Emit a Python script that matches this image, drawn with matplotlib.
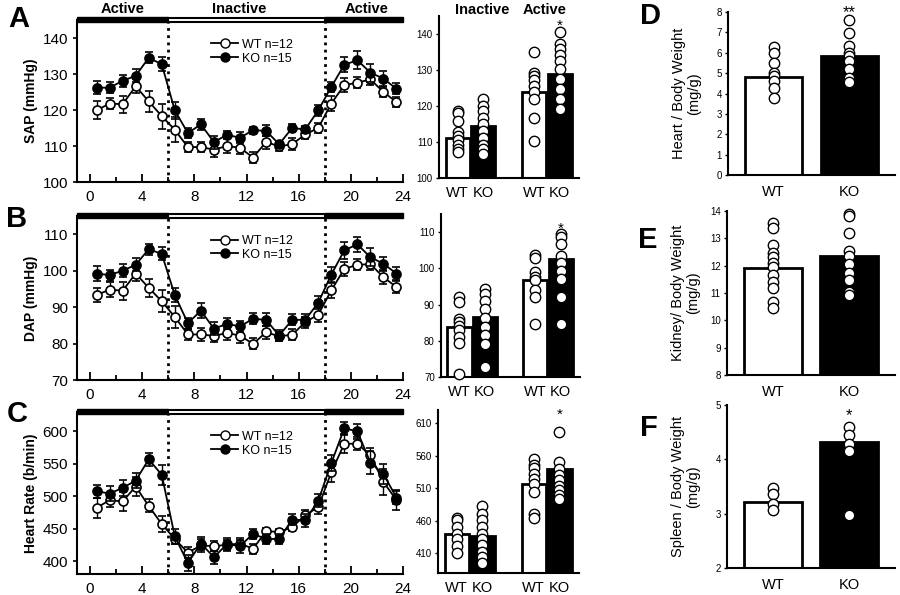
import matplotlib
matplotlib.use('Agg')
import matplotlib.pyplot as plt
from matplotlib.patches import Rectangle
from matplotlib.lines import Line2D
import matplotlib.transforms as mtransforms
import numpy as np

plt.rcParams['font.family'] = ['Liberation Sans', 'DejaVu Sans']

# ---------------- data ----------------
hours = np.arange(24) + 0.5

sap_wt = [119.9, 121.8, 121.6, 126.6, 122.4, 118.3, 114.5, 109.7, 109.7, 109.0, 110.0, 109.5,
          106.8, 111.1, 109.9, 110.5, 113.2, 115.0, 121.8, 126.9, 127.6, 128.5, 125.0, 122.2]
sap_wt_err = [2.5, 1.5, 2.3, 2.0, 3.0, 3.5, 3.5, 1.5, 1.5, 2.0, 2.0, 1.7,
              1.5, 1.8, 1.3, 1.7, 1.2, 1.5, 2.0, 2.0, 1.5, 1.5, 1.5, 1.5]
sap_ko = [126.2, 126.2, 128.1, 129.5, 134.5, 132.7, 119.9, 113.6, 116.0, 111.1, 113.1, 112.3,
          114.4, 114.2, 110.5, 115.0, 114.6, 119.9, 126.4, 132.6, 133.8, 130.4, 128.7, 125.9]
sap_ko_err = [1.8, 1.5, 1.7, 1.8, 1.5, 2.0, 2.3, 1.5, 1.5, 1.8, 1.0, 1.5,
              1.0, 1.5, 1.0, 1.2, 1.0, 1.5, 1.5, 2.0, 2.5, 2.5, 2.0, 1.5]

dap_wt = [93.3, 94.8, 94.5, 99.2, 95.3, 91.6, 87.3, 82.5, 82.5, 82.1, 82.9, 82.2,
          79.9, 83.1, 82.0, 82.4, 85.9, 87.9, 94.6, 100.5, 101.6, 101.8, 98.2, 95.5]
dap_wt_err = [2.0, 2.0, 2.5, 2.0, 2.5, 3.0, 3.0, 1.5, 1.8, 1.8, 1.8, 2.0,
              1.5, 1.8, 1.3, 1.5, 1.5, 2.0, 2.0, 2.0, 1.5, 1.5, 1.8, 1.7]
dap_ko = [99.2, 98.8, 100.0, 101.6, 105.9, 104.6, 93.3, 85.6, 89.0, 84.1, 85.4, 84.7,
          86.8, 86.5, 82.2, 86.5, 86.5, 91.2, 98.9, 105.6, 107.2, 103.7, 101.9, 99.2]
dap_ko_err = [2.0, 1.5, 1.7, 1.8, 1.5, 1.8, 2.0, 1.5, 2.0, 1.8, 1.5, 1.5,
              1.5, 1.8, 1.5, 1.5, 1.5, 1.8, 2.0, 2.3, 2.0, 2.5, 1.8, 1.8]

hr_wt = [482, 494, 492, 515, 485, 457, 434, 413, 424, 423, 425, 427,
         419, 446, 445, 452, 471, 483, 537, 581, 581, 563, 522, 494]
hr_wt_err = [15, 10, 15, 15, 10, 12, 8, 8, 10, 8, 8, 8,
             8, 5, 5, 5, 8, 10, 15, 15, 10, 12, 20, 15]
hr_ko = [508, 504, 513, 524, 557, 533, 438, 397, 427, 406, 426, 423,
         442, 434, 434, 464, 463, 493, 551, 605, 600, 552, 534, 498]
hr_ko_err = [10, 12, 12, 12, 10, 15, 12, 12, 10, 10, 10, 10,
             8, 8, 8, 8, 10, 10, 12, 10, 12, 18, 15, 10]

group_labels = ['WT', 'KO', 'WT', 'KO']
phase_labels = ['Inactive', 'Active']
day_labels = ['Active', 'Inactive', 'Active']

sap_bar_means = [111.0, 114.5, 124.0, 129.0]
sap_bar_dots = [
    [118.7, 118.0, 115.8, 112.7, 111.8, 110.6, 109.1, 108.1, 107.1],
    [122.0, 120.1, 118.7, 116.8, 114.9, 113.0, 111.1, 109.2, 108.1, 106.7],
    [134.9, 129.3, 128.3, 127.2, 125.6, 123.9, 122.0, 116.8, 110.2],
    [140.6, 137.1, 135.7, 134.2, 132.4, 130.3, 127.6, 124.8, 122.0, 119.3],
]
dap_bar_means = [83.7, 86.7, 96.9, 102.5]
dap_bar_dots = [
    [92.0, 90.8, 86.0, 85.1, 84.2, 83.0, 81.1, 79.3, 70.7],
    [94.2, 93.0, 91.1, 88.8, 86.2, 83.9, 81.7, 79.1, 72.8],
    [103.8, 102.9, 99.0, 97.6, 96.7, 94.1, 92.2, 84.6],
    [109.6, 108.7, 106.7, 103.5, 101.4, 99.3, 97.0, 92.2, 84.5],
]
hr_bar_means = [439.5, 437.5, 517.0, 540.0]
hr_bar_dots = [
    [465, 461, 450.7, 440.5, 431.4, 421.2, 411],
    [482, 471, 461, 450.7, 440.5, 431.4, 422.7, 412.5, 404, 394.7],
    [555, 546, 541, 532, 524.5, 515.9, 504, 471, 465],
    [597, 551, 540, 531, 523, 514, 507, 499, 493],
]

organ_groups = ['WT', 'KO']
heart_means = [4.8, 5.82]
heart_dots = [[6.28, 5.98, 5.5, 5.03, 4.87, 4.59, 4.26, 3.77],
              [7.59, 6.97, 6.31, 5.98, 5.82, 5.61, 5.2, 4.75, 4.54]]
kidney_means = [11.93, 12.35]
kidney_dots = [[13.55, 13.37, 12.76, 12.45, 12.33, 12.09, 11.96, 11.66, 11.41, 11.17, 10.68, 10.46],
               [13.9, 13.8, 13.2, 12.54, 12.37, 12.05, 11.72, 11.48, 11.05, 10.93]]
spleen_means = [3.21, 4.31]
spleen_dots = [[3.47, 3.37, 3.17, 3.07],
               [4.59, 4.45, 4.29, 4.16, 2.98]]

# ---------------- layout helpers ----------------
W, H = 900, 595
fig = plt.figure(figsize=(9, 5.95), dpi=100)


def add_ax(x0, y0, x1, y1):
    return fig.add_axes([x0 / W, 1 - y1 / H, (x1 - x0) / W, (y1 - y0) / H])


def ptext(x, y, s, **kw):
    fig.text(x / W, 1 - y / H, s, **kw)


def style_spines(ax, lw=1.5):
    for s in ('top', 'right'):
        ax.spines[s].set_visible(False)
    for s in ('left', 'bottom'):
        ax.spines[s].set_linewidth(lw)


def ts_panel(box, wt, wte, ko, koe, ylim, yticks, ylabel, letter, letter_xy):
    ax = add_ax(*box)
    style_spines(ax)
    ax.errorbar(hours, wt, yerr=wte, fmt='-o', color='black', mfc='white', mec='black',
                ms=6.5, mew=1.2, lw=1.3, capsize=3, elinewidth=1, capthick=1, zorder=3)
    ax.errorbar(hours, ko, yerr=koe, fmt='-o', color='black', mfc='black', mec='black',
                ms=6.5, mew=1.2, lw=1.3, capsize=3, elinewidth=1, capthick=1, zorder=4)
    ax.set_xlim(-1, 24)
    ax.set_ylim(*ylim)
    ax.set_yticks(yticks)
    ax.set_xticks(range(0, 25, 4))
    ax.set_xticks(range(2, 24, 4), minor=True)
    ax.tick_params(axis='x', which='major', direction='in', length=6, width=1.3, labelsize=11, pad=6)
    ax.tick_params(axis='x', which='minor', direction='in', length=3.5, width=1.3)
    ax.tick_params(axis='y', direction='out', length=3, width=1.2, labelsize=11)
    for x in (6, 18):
        ax.axvline(x, color='black', ls=(0, (1, 1.6)), lw=2.0, zorder=2)
    trans = mtransforms.blended_transform_factory(ax.transData, ax.transAxes)
    ax.add_patch(Rectangle((-1, 0.985), 7, 0.035, transform=trans, fc='black', ec='black',
                           lw=1, clip_on=False, zorder=5))
    ax.add_patch(Rectangle((6, 0.99), 12, 0.025, transform=trans, fc='white', ec='black',
                           lw=1.5, clip_on=False, zorder=5))
    ax.add_patch(Rectangle((18, 0.985), 6, 0.035, transform=trans, fc='black', ec='black',
                           lw=1, clip_on=False, zorder=5))
    ax.set_ylabel(ylabel, fontsize=10, fontweight='bold')
    ax.yaxis.set_label_coords(-0.12, 0.5)
    handles = [Line2D([], [], color='black', marker='o', mfc='white', mec='black', ms=6.5, lw=1.3),
               Line2D([], [], color='black', marker='o', mfc='black', mec='black', ms=6.5, lw=1.3)]
    ax.legend(handles, ['WT n=12', 'KO n=15'], loc='upper left', bbox_to_anchor=(0.395, 0.915),
              frameon=False, fontsize=9, handlelength=2.2, handletextpad=0.3,
              labelspacing=0.15, borderaxespad=0)
    ptext(letter_xy[0], letter_xy[1], letter, fontsize=21, fontweight='bold',
          ha='center', va='center')
    return ax


def bar_panel(box, means, dots, ylim, yticks, star_y):
    ax = add_ax(*box)
    style_spines(ax)
    pos = [0, 1, 3, 4]
    for i, (p, m) in enumerate(zip(pos, means)):
        fc = 'white' if i % 2 == 0 else 'black'
        ax.bar(p, m - ylim[0], bottom=ylim[0], width=0.95, color=fc, edgecolor='black',
               linewidth=2, zorder=2)
        ax.plot([p] * len(dots[i]), dots[i], 'o', ms=7.5, mfc='white', mec='black',
                mew=1.0, zorder=3, clip_on=False)
    ax.text(4, star_y, '*', ha='center', va='center', fontsize=11)
    ax.set_xlim(-0.73, 4.76)
    ax.set_ylim(*ylim)
    ax.set_yticks(yticks)
    ax.set_xticks(pos)
    ax.set_xticklabels(group_labels)
    ax.tick_params(axis='x', length=0, labelsize=10.5, pad=6)
    ax.tick_params(axis='y', direction='out', length=2.5, width=1, labelsize=7, pad=2)
    return ax


def organ_panel(box, means, dots, ylim, yticks, ylabel, letter, letter_xy, star_text, star_y):
    ax = add_ax(*box)
    style_spines(ax)
    for i, m in enumerate(means):
        fc = 'white' if i == 0 else 'black'
        ax.bar(i + 1, m - ylim[0], bottom=ylim[0], width=0.76, color=fc, edgecolor='black',
               linewidth=2, zorder=2)
        ax.plot([i + 1] * len(dots[i]), dots[i], 'o', ms=7.5, mfc='white', mec='black',
                mew=1.0, zorder=3, clip_on=False)
    if star_text:
        ax.text(2, star_y, star_text, ha='center', va='center', fontsize=12)
    ax.set_xlim(0.4, 2.6)
    ax.set_ylim(*ylim)
    ax.set_yticks(yticks)
    ax.set_xticks([1, 2])
    ax.set_xticklabels(organ_groups)
    ax.tick_params(axis='x', length=0, labelsize=10.5, pad=7)
    ax.tick_params(axis='y', direction='out', length=2.5, width=1, labelsize=7, pad=2)
    ax.set_ylabel(ylabel, fontsize=10.5, linespacing=1.1)
    ax.yaxis.set_label_coords(-0.16, 0.5)
    ptext(letter_xy[0], letter_xy[1], letter, fontsize=21, fontweight='bold',
          ha='center', va='center')
    return ax


# ---------------- panels ----------------
ts_panel((77, 20, 403, 182), sap_wt, sap_wt_err, sap_ko, sap_ko_err, (100, 145),
         range(100, 141, 10), 'SAP (mmHg)', 'A', (19, 19))
ts_panel((77, 216, 403, 380), dap_wt, dap_wt_err, dap_ko, dap_ko_err, (70, 115),
         range(70, 111, 10), 'DAP (mmHg)', 'B', (17, 219))
ts_panel((77, 412, 403, 574), hr_wt, hr_wt_err, hr_ko, hr_ko_err, (380, 630),
         range(400, 601, 50), 'Heart Rate (b/min)', 'C', (17, 414))

for xc, lab in zip((123, 239, 367), day_labels):
    ptext(xc, 9, lab, fontsize=10.5, fontweight='bold', ha='center', va='center')

bar_panel((439, 16, 579, 178), sap_bar_means, sap_bar_dots, (100, 145), range(100, 141, 10),
          142.3)
bar_panel((441, 214, 580, 377), dap_bar_means, dap_bar_dots, (70, 115), range(70, 111, 10),
          111.0)
bar_panel((438, 410, 579, 573), hr_bar_means, hr_bar_dots, (380, 630), range(410, 611, 50),
          622)
for xc, lab in zip((482, 545), phase_labels):
    ptext(xc, 10, lab, fontsize=10.5, fontweight='bold', ha='center', va='center')

organ_panel((728, 12, 895, 175), heart_means, heart_dots, (0, 8), range(0, 9),
            'Heart / Body Weight\n(mg/g)', 'D', (651, 16), '**', 7.95)
organ_panel((727, 211, 895, 375), kidney_means, kidney_dots, (8, 14), range(8, 15),
            'Kidney/ Body Weight\n(mg/g)', 'E', (648, 240), None, None)
organ_panel((727, 405, 895, 568), spleen_means, spleen_dots, (2, 5), range(2, 6),
            'Spleen / Body Weight\n(mg/g)', 'F', (649, 428), '*', 4.8)

fig.savefig('out.png', dpi=100)
